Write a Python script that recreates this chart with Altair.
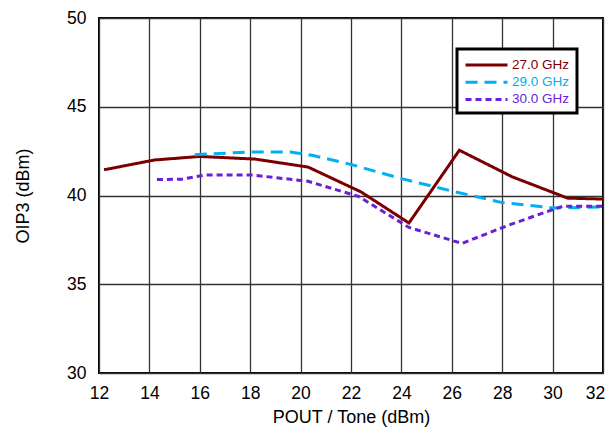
import altair as alt
import pandas as pd

x27 = [12.2, 14.2, 16.0, 18.2, 20.3, 22.4, 24.3, 26.3, 28.4, 30.6, 32.0]
y27 = [41.45, 42.0, 42.2, 42.05, 41.6, 40.2, 38.45, 42.55, 41.05, 39.85, 39.8]
x29 = [15.8, 18.0, 19.6, 20.5, 22.0, 24.0, 26.0, 28.0, 30.0, 32.0]
y29 = [42.3, 42.45, 42.45, 42.25, 41.75, 40.95, 40.25, 39.6, 39.3, 39.35]
x30 = [14.3, 15.3, 16.2, 18.1, 20.3, 22.3, 24.3, 26.4, 28.2, 30.4, 32.0]
y30 = [40.9, 40.92, 41.15, 41.15, 40.8, 39.95, 38.2, 37.3, 38.3, 39.4, 39.4]

series = ["27.0 GHz", "29.0 GHz", "30.0 GHz"]
colors = ["#7a0000", "#00b0f0", "#6a1fd8"]
dashes = [[1, 0], [12, 7], [6, 4]]
x_ticks = list(range(12, 33, 2))
y_ticks = [30, 35, 40, 45, 50]

rows = []
for name, xs, ys in zip(series, [x27, x29, x30], [y27, y29, y30]):
    for i, (xv, yv) in enumerate(zip(xs, ys)):
        rows.append({"pout": xv, "oip3": yv, "freq": name, "order": i})
df = pd.DataFrame(rows)

label_expr = ("datum.label == '27.0 GHz' ? '%s' : (datum.label == '29.0 GHz' ? '%s' : '%s')"
              % (colors[0], colors[1], colors[2]))

chart = alt.Chart(df).mark_line(strokeWidth=3).encode(
    x=alt.X("pout:Q", scale=alt.Scale(domain=[12, 32], nice=False),
            axis=alt.Axis(values=x_ticks, title="POUT / Tone (dBm)", labelFlush=False,
                          labelOffset={"expr": "datum.value == 32 ? -8 : 0"})),
    y=alt.Y("oip3:Q", scale=alt.Scale(domain=[30, 50], nice=False),
            axis=alt.Axis(values=y_ticks, title="OIP3 (dBm)")),
    color=alt.Color("freq:N", scale=alt.Scale(domain=series, range=colors),
                    legend=alt.Legend(title=None, orient="none", legendX=358, legendY=31,
                                      strokeColor="black", padding=7, fillColor="white",
                                      symbolType="M-1,0L4.6,0", symbolSize=225,
                                      symbolStrokeWidth=3,
                                      labelFontSize=13.5, labelFont="Liberation Sans",
                                      labelColor={"expr": label_expr},
                                      rowPadding=1.2, labelOffset=30)),
    strokeDash=alt.StrokeDash("freq:N", scale=alt.Scale(domain=series, range=dashes), legend=None),
    order="order:Q",
).properties(
    width=504, height=355,
    autosize=alt.AutoSizeParams(type="none"),
    padding={"left": 91, "top": 10, "right": 4, "bottom": 54},
).configure_view(
    stroke="black", strokeWidth=2
).configure_axis(
    grid=True, gridColor="#333333", gridWidth=1.3, gridOpacity=1,
    domain=False, ticks=False,
    labelFont="Liberation Sans", labelFontSize=17.5, labelColor="black",
    titleFont="Liberation Sans", titleFontSize=18, titleColor="black", titleFontWeight="normal",
).configure_axisX(
    labelPadding=11, titlePadding=7
).configure_axisY(
    labelPadding=13, titlePadding=34
).configure_legend(
    strokeWidth=3
)

chart.save("out.html", embed_options={"renderer": "svg", "actions": False})
